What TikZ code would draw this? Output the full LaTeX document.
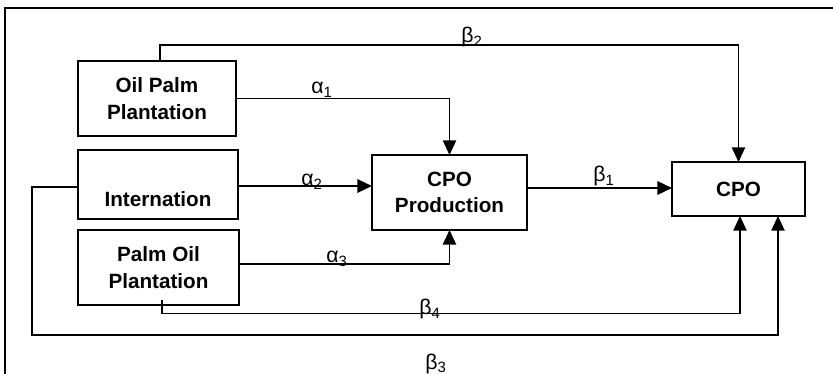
\documentclass[tikz,border=0pt]{standalone}
\usepackage{fontspec}
\setmainfont{Liberation Sans}
\usetikzlibrary{arrows.meta}
\tikzset{
  box/.style={draw, line width=1.3pt, inner sep=0pt, outer sep=0pt, align=center,
    font=\fontsize{15.5}{20}\selectfont\bfseries},
  conn/.style={line width=1.1pt},
  arr/.style={conn, -{Triangle[length=11pt,width=10pt]}},
  lab/.style={font=\fontsize{16}{18}\selectfont, inner sep=0pt, anchor=base}
}
\begin{document}
\begin{tikzpicture}[x=0.75pt,y=-0.75pt]
\useasboundingbox (0,0) rectangle (833,374);
\clip (0,0) rectangle (833,374);
\draw[line width=1.6pt] (5,8) rectangle (845,390);
% boxes
\node[box, minimum width={158*0.75pt}, minimum height={75*0.75pt}] (opp) at (157,98.5) {Oil Palm\\Plantation};
\node[box, minimum width={160*0.75pt}, minimum height={69*0.75pt}] (int) at (158,184.5) {};
\node[box, inner sep=0pt, draw=none, anchor=base] (inttext) at (158,207) {Internation};
\node[box, minimum width={161*0.75pt}, minimum height={75*0.75pt}] (pop) at (158.5,267.5) {Palm Oil\\Plantation};
\node[box, minimum width={155*0.75pt}, minimum height={75*0.75pt}] (prod) at (449.5,192.5) {CPO\\Production};
\node[box, minimum width={133*0.75pt}, minimum height={54*0.75pt}] (cpo) at (738.5,189) {CPO};
% connectors
\draw[arr] ([xshift=2.25pt]opp.north) -- ++(0,-16) -| (cpo.north);
\draw[arr] (opp.east) -| (prod.north);
\draw[arr, line width=1.8pt] (int.east |- 0,186) -- (prod.west |- 0,186);
\draw[arr, line width=1.8pt] (prod.east |- 0,188) -- (cpo.west |- 0,188);
\draw[arr] (pop.east |- 0,264) -| (prod.south);
\draw[arr] ([xshift=2.6pt,yshift=4pt]pop.south) -- ++(0,14) -| (cpo.south -| 740,0);
\draw[arr] (int.west |- 0,187) -| (32,335) -| (cpo.south -| 778,0);
% labels
\node[lab] (b2) at (472,43) {β\textsubscript{2}};
\node[lab] (a1) at (322,94) {α\textsubscript{1}};
\node[lab] (a2) at (312,186) {α\textsubscript{2}};
\node[lab] (a3) at (337,263) {α\textsubscript{3}};
\node[lab] (b1) at (604,182) {β\textsubscript{1}};
\node[lab] (b4) at (430,315) {β\textsubscript{4}};
\node[lab] (b3) at (436,369) {β\textsubscript{3}};
\end{tikzpicture}
\end{document}
